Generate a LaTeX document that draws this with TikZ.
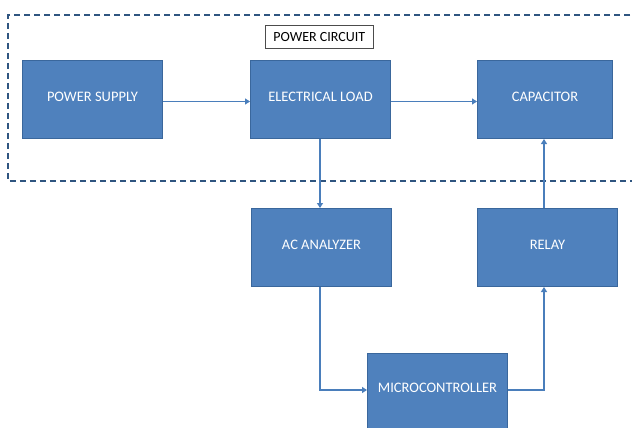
\documentclass[tikz,border=0pt]{standalone}
\usepackage{fontspec}
\setmainfont{Carlito}
\usetikzlibrary{arrows.meta}
\definecolor{boxfill}{HTML}{4F81BD}
\definecolor{boxedge}{HTML}{3A679C}
\definecolor{arrowc}{HTML}{4A7EBB}
\definecolor{dashc}{HTML}{2F5580}
\tikzset{
  blk/.style={draw=boxedge, line width=1pt, fill=boxfill, minimum width=140pt, minimum height=78pt, inner sep=0pt, font=\fontsize{14.5}{16}\selectfont, text=white, anchor=north west},
  conn/.style={draw=arrowc, line width=1.5pt, -{Triangle[length=5pt,width=6pt]}},
}
\begin{document}
\begin{tikzpicture}[x=1pt,y=-1pt]
\useasboundingbox (0,0) rectangle (632,428);
\clip (0,0) rectangle (632,428);
\draw[dashc, line width=1.5pt, dash pattern=on 6pt off 4pt] (640,15) -- (8,15) -- (8,181) -- (640,181);
\node[draw=black!70, line width=0.6pt, fill=white, minimum width=108pt, minimum height=23pt, inner sep=0pt, anchor=north west, font=\fontsize{14}{16}\selectfont] (pc) at (265,25) {POWER CIRCUIT};
\node[blk] (ps) at (22,60) {\raisebox{5pt}{POWER SUPPLY}};
\node[blk] (el) at (250,60) {\raisebox{5pt}{ELECTRICAL LOAD}};
\node[blk, minimum width=135pt] (cap) at (477,60) {\raisebox{5pt}{CAPACITOR}};
\node[blk] (ac) at (251,208) {\raisebox{5pt}{AC ANALYZER}};
\node[blk] (rl) at (477,208) {\raisebox{5pt}{RELAY}};
\node[blk] (mc) at (367,353) {\raisebox{10pt}{MICROCONTROLLER}};
\draw[conn] ([yshift=-2pt]ps.east) -- ([yshift=-2pt]ps.east -| el.west);
\draw[conn] ([yshift=-2pt]el.east) -- ([yshift=-2pt]el.east -| cap.west);
\draw[conn] (el.south -| 320,0) -- (ac.north -| 320,0);
\draw[conn] (rl.north -| 544,0) -- (cap.south -| 544,0);
\draw[conn] (ac.south -| 320,0) |- (367,390);
\draw[conn] (508,390) -| (rl.south -| 544,0);
\end{tikzpicture}
\end{document}
